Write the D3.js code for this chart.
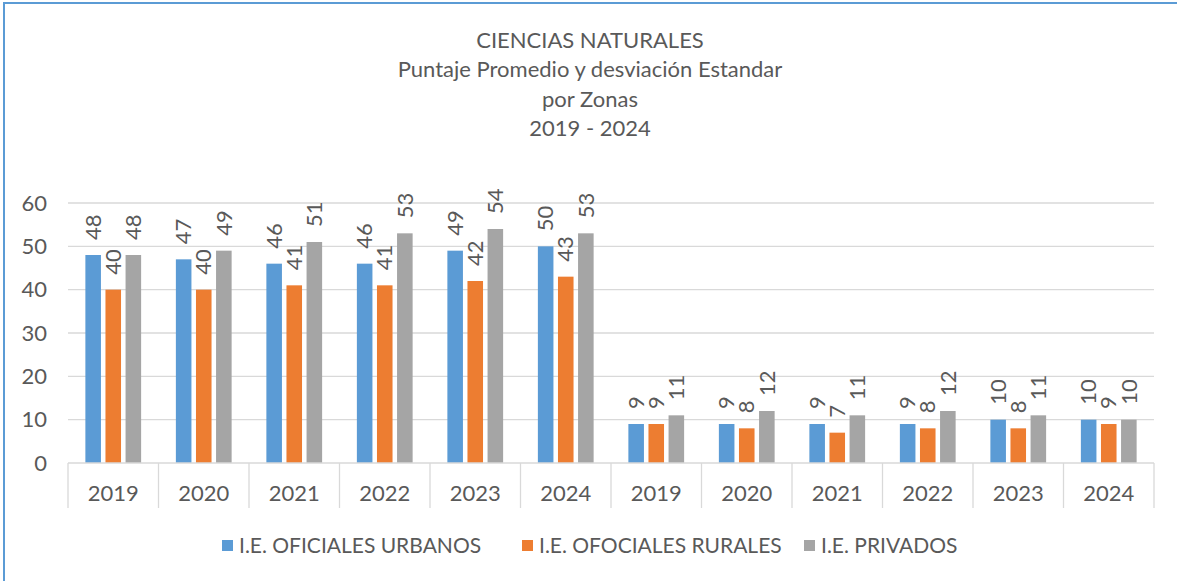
<!DOCTYPE html>
<html>
<head>
<meta charset="utf-8">
<script src="https://cdn.jsdelivr.net/npm/d3@7"></script>
<style>
  body { margin: 0; background: #fff; }
  svg text { font-family: Lato, 'Noto Sans', sans-serif; fill: #595959; }
</style>
</head>
<body>
<svg id="chart" width="1177" height="581"></svg>
<script>
// data
const categories = ['2019', '2020', '2021', '2022', '2023', '2024', '2019', '2020', '2021', '2022', '2023', '2024']
const seriesNames = ['I.E. OFICIALES URBANOS', 'I.E. OFOCIALES RURALES', 'I.E. PRIVADOS']
const urbanos = [48, 47, 46, 46, 49, 50, 9, 9, 9, 9, 10, 10]
const rurales = [40, 40, 41, 41, 42, 43, 9, 8, 7, 8, 8, 9]
const privados = [48, 49, 51, 53, 54, 53, 11, 12, 11, 12, 11, 10]
const yTicks = [0, 10, 20, 30, 40, 50, 60]
const titleLines = ['CIENCIAS NATURALES', 'Puntaje Promedio y desviación Estandar', 'por Zonas', '2019 - 2024']
const colors = ['#5B9BD5', '#ED7D31', '#A5A5A5']

const values = [urbanos, rurales, privados]

var svg = d3.select('#chart')

// frame (only top and left edges visible)
svg.append('line').attr('x1', 4).attr('x2', 1177).attr('y1', 3).attr('y2', 3)
  .attr('stroke', '#5B9BD5').attr('stroke-width', 2)
svg.append('line').attr('x1', 4).attr('x2', 4).attr('y1', 2).attr('y2', 581)
  .attr('stroke', '#5B9BD5').attr('stroke-width', 2)

var margin = {left: 68, right: 23, top: 203, bottom: 118}
var width = 1177 - margin.left - margin.right,
  height = 581 - margin.top - margin.bottom

// title
svg.append('g').selectAll('text')
  .data(titleLines)
  .enter().append('text')
  .attr('x', 590)
  .attr('y', function(d, i) { return 48 + i * 29.3 })
  .attr('text-anchor', 'middle')
  .style('font-size', '22px')
  .text(function(d) { return d })

var g = svg.append('g').attr('transform', 'translate(' + margin.left + ',' + margin.top + ')')

var x = d3.scaleBand()
  .domain(d3.range(categories.length))
  .range([0, width])

var y = d3.scaleLinear()
  .domain([0, 60])
  .range([height, 0])

// gridlines
g.append('g')
  .selectAll('line')
  .data(yTicks.slice(1))
  .enter().append('line')
  .attr('x1', 0).attr('x2', width)
  .attr('y1', function(d) { return y(d) }).attr('y2', function(d) { return y(d) })
  .attr('stroke', '#d9d9d9').attr('stroke-width', 1.3)

// y axis labels
g.append('g')
  .call(d3.axisLeft(y).tickValues(yTicks).tickSize(0).tickPadding(21))
  .call(function(a) { a.select('.domain').remove() })
  .selectAll('text')
  .style('font-size', '22px')
  .style('fill', '#595959')

// bars
var bw = x.bandwidth() * 0.172
var gap = x.bandwidth() * 0.05
var groupW = 3 * bw + 2 * gap

var series = g.selectAll('.series')
  .data(values)
  .enter().append('g')
  .attr('class', 'series')
  .attr('fill', function(d, i) { return colors[i] })

series.each(function(vals, s) {
  var sel = d3.select(this)
  var bx = function(i) { return x(i) + (x.bandwidth() - groupW) / 2 + s * (bw + gap) }
  sel.selectAll('rect')
    .data(vals)
    .enter().append('rect')
    .attr('x', function(d, i) { return bx(i) })
    .attr('y', function(d) { return y(d) })
    .attr('width', bw)
    .attr('height', function(d) { return y(0) - y(d) })

  sel.selectAll('text')
    .data(vals)
    .enter().append('text')
    .attr('transform', function(d, i) {
      return 'translate(' + (bx(i) + bw / 2) + ',' + (y(d) - 15) + ') rotate(-90)'
    })
    .attr('dy', '0.35em')
    .style('font-size', '22px')
    .text(function(d) { return d })
})

// x axis line and category separators
g.append('line')
  .attr('x1', 0).attr('x2', width)
  .attr('y1', height).attr('y2', height)
  .attr('stroke', '#d9d9d9').attr('stroke-width', 1.3)

g.append('g')
  .selectAll('line')
  .data(d3.range(categories.length + 1))
  .enter().append('line')
  .attr('x1', function(d) { return d * x.step() }).attr('x2', function(d) { return d * x.step() })
  .attr('y1', height).attr('y2', height + 45)
  .attr('stroke', '#d9d9d9').attr('stroke-width', 1.3)

g.append('g')
  .selectAll('text')
  .data(categories)
  .enter().append('text')
  .attr('x', function(d, i) { return x(i) + x.bandwidth() / 2 })
  .attr('y', height + 38)
  .attr('text-anchor', 'middle')
  .style('font-size', '22px')
  .text(function(d) { return d })

// legend
var legendX = [222, 522, 804]
var legend = svg.append('g')
  .selectAll('g')
  .data(seriesNames)
  .enter().append('g')
  .attr('transform', function(d, i) { return 'translate(' + legendX[i] + ',540)' })

legend.append('rect')
  .attr('width', 11).attr('height', 11)
  .attr('fill', function(d, i) { return colors[i] })

legend.append('text')
  .attr('x', 17)
  .attr('y', 13)
  .style('font-size', '21px')
  .text(function(d) { return d })
</script>
</body>
</html>
